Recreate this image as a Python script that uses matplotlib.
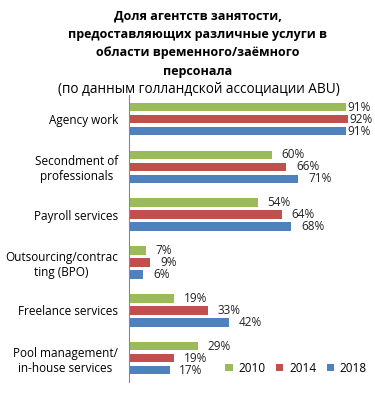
import matplotlib
matplotlib.use("Agg")
import matplotlib.pyplot as plt
import numpy as np

categories = ["Agency work", "Secondment of\nprofessionals", "Payroll services",
              "Outsourcing/contrac\nting (BPO)", "Freelance services",
              "Pool management/\nin-house services"]
years = ["2010", "2014", "2018"]
v2010 = [91, 60, 54, 7, 19, 29]
v2014 = [92, 66, 64, 9, 33, 19]
v2018 = [91, 71, 68, 6, 42, 17]
colors = ["#9BBB59", "#C0504D", "#4F81BD"]

title_bold = "Доля агентств занятости,\nпредоставляющих различные услуги в\nобласти временного/заёмного\nперсонала"
subtitle = "(по данным голландской ассоциации ABU)"

plt.rcParams['font.family'] = ['Open Sans', 'DejaVu Sans']

fig = plt.figure(figsize=(3.75, 3.95), dpi=100)
ax = fig.add_axes([0.344, 0.033, 0.636, 0.726])

y = np.arange(len(categories))
pitch = 0.25
h = 0.18
for i, (vals, c, yr) in enumerate(zip([v2010, v2014, v2018], colors, years)):
    off = (i - 1) * pitch
    bars = ax.barh(y + off, vals, height=h, color=c, label=yr)
    for b, v in zip(bars, vals):
        dx = 1 if v > 85 else 7
        ax.annotate(f"{v}%", (v, b.get_y() + b.get_height() / 2), xytext=(dx, 0),
                    textcoords="offset points", va="center", ha="left",
                    fontsize=8.5, color="#222222")

ax.set_xlim(0, 100)
ax.set_ylim(len(categories) - 0.5, -0.5)
ax.set_yticks(y)
ax.set_yticklabels(categories, fontsize=8.5, multialignment="center")
ax.tick_params(axis="y", length=0, pad=8)
ax.set_xticks([])
for s in ["top", "right", "bottom"]:
    ax.spines[s].set_visible(False)
ax.spines["left"].set_color("#888888")

fig.text(0.528, 1 - 43.5 / 395, title_bold, ha="center", va="center", fontsize=9,
         fontweight="bold", linespacing=1.55)
fig.text(0.53, 1 - 90 / 395, subtitle, ha="center", va="center", fontsize=9.8)

leg = fig.legend(loc="center", bbox_to_anchor=(0.79, 0.068), ncol=3, frameon=False,
                 fontsize=8.5, handlelength=0.6, handleheight=0.6,
                 handletextpad=0.5, columnspacing=0.9)

fig.savefig("out.png", dpi=100)
